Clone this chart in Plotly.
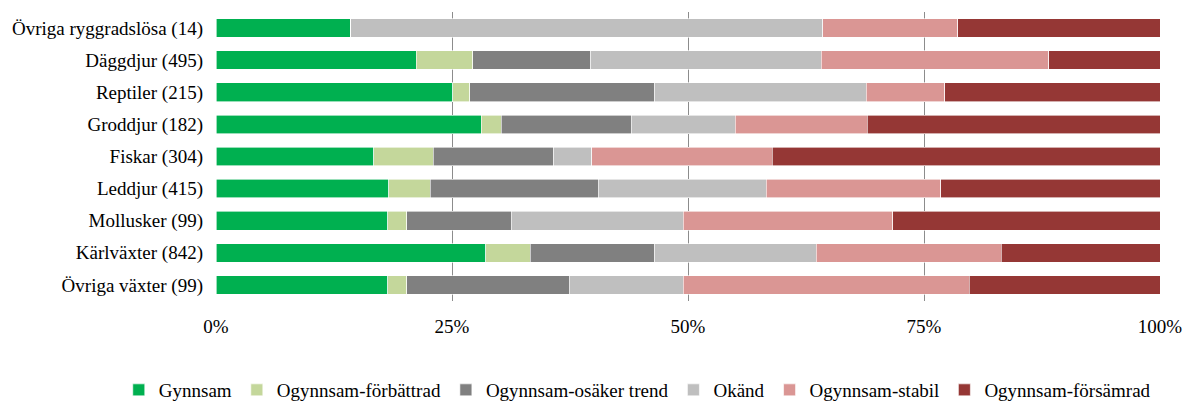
import plotly.graph_objects as go

# categories, top to bottom
kategorier = [
    "Övriga ryggradslösa (14)",
    "Däggdjur (495)",
    "Reptiler (215)",
    "Groddjur (182)",
    "Fiskar (304)",
    "Leddjur (415)",
    "Mollusker (99)",
    "Kärlväxter (842)",
    "Övriga växter (99)",
]

# share of species (%) per status class, same order as kategorier
gynnsam = [14.3, 21.2, 25.1, 28.1, 16.7, 18.3, 18.2, 28.6, 18.2]
forbattrad = [0.0, 6.0, 1.8, 2.1, 6.3, 4.4, 2.0, 4.7, 2.0]
osaker = [0.0, 12.5, 19.6, 13.8, 12.8, 17.8, 11.1, 13.2, 17.2]
okand = [50.0, 24.4, 22.4, 11.0, 4.0, 17.8, 18.2, 17.1, 12.1]
stabil = [14.3, 24.1, 8.3, 14.0, 19.1, 18.5, 22.2, 19.6, 30.3]
forsamrad = [21.4, 11.8, 22.8, 31.0, 41.1, 23.2, 28.3, 16.8, 20.2]

serier = [
    ("Gynnsam", gynnsam, "#00B050"),
    ("Ogynnsam-förbättrad", forbattrad, "#C4D79B"),
    ("Ogynnsam-osäker trend", osaker, "#808080"),
    ("Okänd", okand, "#BFBFBF"),
    ("Ogynnsam-stabil", stabil, "#DA9694"),
    ("Ogynnsam-försämrad", forsamrad, "#953735"),
]

SERIF = "Liberation Serif"

fig = go.Figure()
for namn, varden, farg in serier:
    fig.add_trace(go.Bar(
        y=kategorier,
        x=varden,
        name=namn,
        orientation="h",
        marker=dict(color=farg, line=dict(color="white", width=0.6)),
    ))

fig.update_layout(
    barmode="stack",
    bargap=0.42,
    width=1184,
    height=401,
    # autoexpand off: the legend sits in the bottom margin without shrinking the plot
    margin=dict(l=216, r=24, t=12, b=100, autoexpand=False),
    plot_bgcolor="white",
    paper_bgcolor="white",
    font=dict(family=SERIF, size=19, color="black"),
    xaxis=dict(
        range=[0, 100],
        tickvals=[0, 25, 50, 75, 100],
        ticktext=["0%", "25%", "50%", "75%", "100%"],
        showgrid=True,
        gridcolor="#8c8c8c",
        gridwidth=1,
        zeroline=False,
        automargin=False,
        ticklabelstandoff=12,
        tickfont=dict(family=SERIF, size=19, color="black"),
    ),
    yaxis=dict(
        autorange="reversed",
        showgrid=False,
        automargin=False,
        ticklabelstandoff=12,
        tickfont=dict(family=SERIF, size=19, color="black"),
    ),
    legend=dict(
        orientation="h",
        x=-0.103,
        xanchor="left",
        y=-0.308,
        yanchor="middle",
        font=dict(family=SERIF, size=19, color="black"),
        traceorder="normal",
        itemwidth=30,
    ),
)

# pin the figure to the window's top-left corner so page margins/whitespace don't matter
pin = (
    "document.body.style.margin='0';"
    "var d=document.getElementById('{plot_id}');"
    "d.style.position='fixed';d.style.top='0';d.style.left='0';"
)
fig.write_html("out.html", config={"displayModeBar": False}, post_script=pin)
